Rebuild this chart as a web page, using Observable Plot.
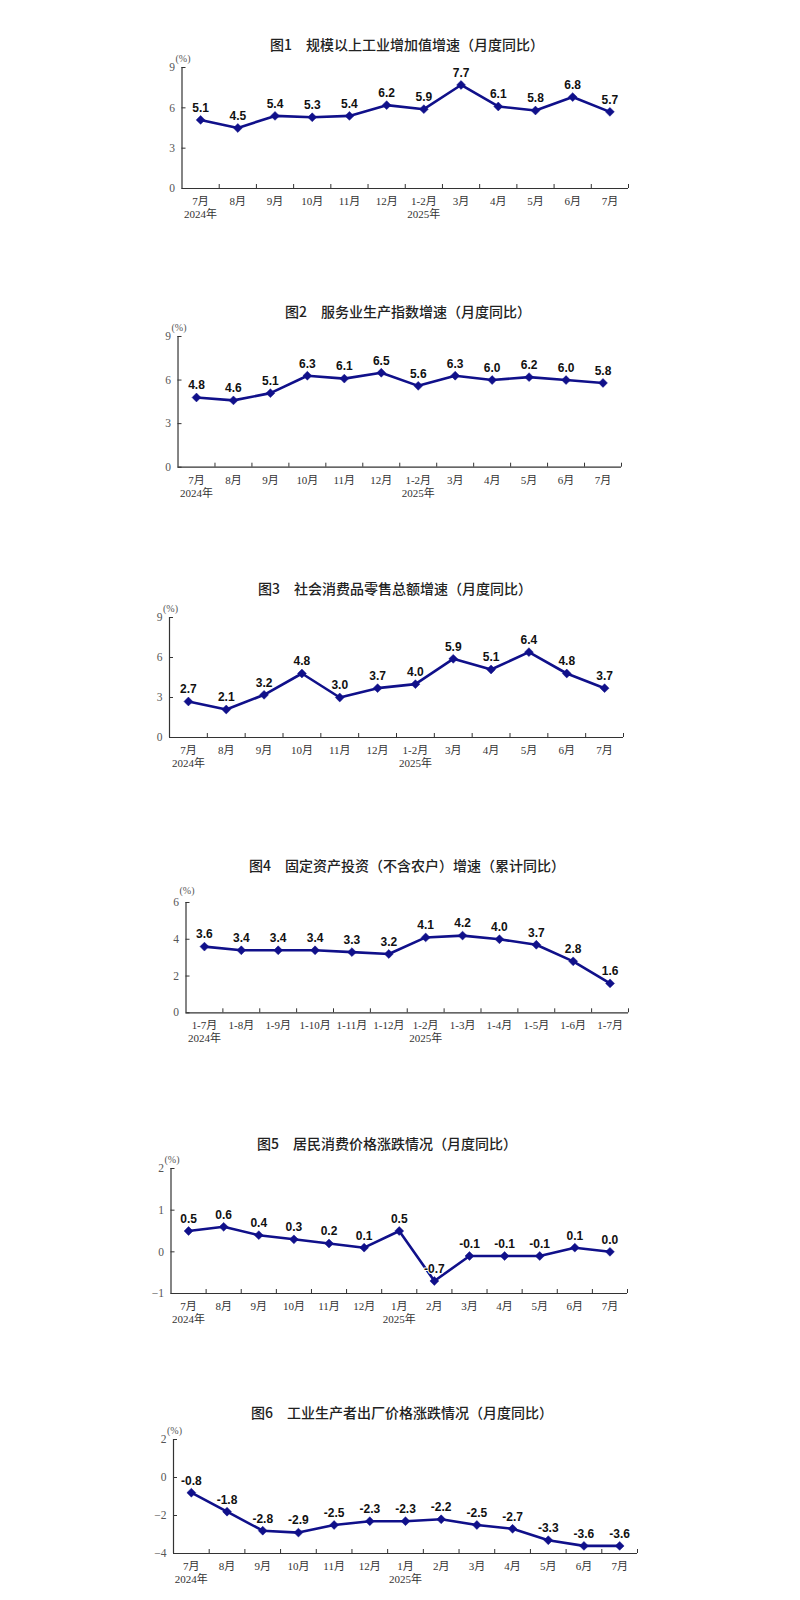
<!DOCTYPE html>
<html><head><meta charset="utf-8">
<script src="https://cdn.jsdelivr.net/npm/d3@7"></script>
<script src="https://cdn.jsdelivr.net/npm/@observablehq/plot@0.6"></script>
<style>
html,body{margin:0;padding:0;background:#fff}
body{width:800px;height:1600px;position:relative;overflow:hidden}
.title{position:absolute;transform:translate(-50%,-50%);white-space:nowrap;font-family:"Noto Sans CJK SC","Noto Sans",sans-serif;font-size:14px;font-weight:500;color:#222;line-height:1}
.chart{position:absolute;left:0}
</style></head><body>
<script>
// ---- data ----
const monthsA = ["7月","8月","9月","10月","11月","12月","1-2月","3月","4月","5月","6月","7月"];
const monthsB = ["7月","8月","9月","10月","11月","12月","1月","2月","3月","4月","5月","6月","7月"];
const cumMonths = ["1-7月","1-8月","1-9月","1-10月","1-11月","1-12月","1-2月","1-3月","1-4月","1-5月","1-6月","1-7月"];
const yearLabels = ["2024年","2025年"];
const industry   = [5.1,4.5,5.4,5.3,5.4,6.2,5.9,7.7,6.1,5.8,6.8,5.7];
const services   = [4.8,4.6,5.1,6.3,6.1,6.5,5.6,6.3,6.0,6.2,6.0,5.8];
const retail     = [2.7,2.1,3.2,4.8,3.0,3.7,4.0,5.9,5.1,6.4,4.8,3.7];
const investment = [3.6,3.4,3.4,3.4,3.3,3.2,4.1,4.2,4.0,3.7,2.8,1.6];
const cpi        = [0.5,0.6,0.4,0.3,0.2,0.1,0.5,-0.7,-0.1,-0.1,-0.1,0.1,0.0];
const ppi        = [-0.8,-1.8,-2.8,-2.9,-2.5,-2.3,-2.3,-2.2,-2.5,-2.7,-3.3,-3.6,-3.6];
const ticksA = [0,3,6,9];
const ticksInv = [0,2,4,6];
const ticksCpi = [-1,0,1,2];
const ticksPpi = [-4,-2,0,2];
const titles = [
  "图1　规模以上工业增加值增速（月度同比）",
  "图2　服务业生产指数增速（月度同比）",
  "图3　社会消费品零售总额增速（月度同比）",
  "图4　固定资产投资（不含农户）增速（累计同比）",
  "图5　居民消费价格涨跌情况（月度同比）",
  "图6　工业生产者出厂价格涨跌情况（月度同比）"
];
const unitLabel = "(%)";

// ---- layout / style ----
const lineColor = "#10108a";
const axisColor = "#333";
const serif = "'Liberation Serif','DejaVu Serif','Noto Sans CJK SC',serif";
const sans = "'Liberation Sans',Arial,sans-serif";

const charts = [
  {title: titles[0], cats: monthsA, values: industry, ticks: ticksA, tx: 407, ty: 44, left: 181.5, right: 628, top: 67.3, bottom: 188.3, pctDy: -13},
  {title: titles[1], cats: monthsA, values: services, ticks: ticksA, tx: 408, ty: 310.7, left: 177.5, right: 621, top: 336, bottom: 466.7, pctDy: -13},
  {title: titles[2], cats: monthsA, values: retail, ticks: ticksA, tx: 395, ty: 588.3, left: 169, right: 623, top: 616.7, bottom: 736.7, pctDy: -13},
  {title: titles[3], cats: cumMonths, values: investment, ticks: ticksInv, tx: 407, ty: 865, left: 185.5, right: 628, top: 901.7, bottom: 1012, pctDy: -16},
  {title: titles[4], cats: monthsB, values: cpi, ticks: ticksCpi, tx: 387, ty: 1142.7, left: 170.5, right: 627, top: 1168, bottom: 1293, pctDy: -13},
  {title: titles[5], cats: monthsB, values: ppi, ticks: ticksPpi, tx: 402, ty: 1411.7, left: 173, right: 637, top: 1439.3, bottom: 1553.3, pctDy: -13}
];

function draw(c) {
  const mt = 30, mb = 42;
  const n = c.cats.length;
  const yearIndex = 6;
  const rows = c.values.map((v, k) => ({i: k + 0.5, v}));
  const labelOf = (x) => {
    const k = Math.floor(x);
    return c.cats[k] + (k === 0 ? "\n" + yearLabels[0] : k === yearIndex ? "\n" + yearLabels[1] : "");
  };
  const t = document.createElement("div");
  t.className = "title";
  t.style.left = c.tx + "px";
  t.style.top = c.ty + "px";
  t.textContent = c.title;
  document.body.appendChild(t);

  const svg = Plot.plot({
    width: 800,
    height: mt + (c.bottom - c.top) + mb,
    marginLeft: c.left,
    marginRight: 800 - c.right,
    marginTop: mt,
    marginBottom: mb,
    x: {domain: [0, n]},
    y: {domain: [c.ticks[0], c.ticks[c.ticks.length - 1]]},
    style: {background: "transparent", overflow: "visible"},
    marks: [
      Plot.ruleX([0], {stroke: axisColor, strokeWidth: 1.2}),
      Plot.ruleY([c.ticks[0]], {stroke: axisColor, strokeWidth: 1.2}),
      Plot.axisY(c.ticks, {tickSize: -4, tickPadding: 11, fontSize: 11.5, fontFamily: serif, fill: "#555", stroke: axisColor, label: null}),
      Plot.axisX(d3.range(1, n + 1), {tickSize: -4, tickFormat: () => "", stroke: axisColor, label: null}),
      Plot.axisX(rows.map(d => d.i), {tickSize: 0, tickPadding: 7, tickFormat: labelOf, fontSize: 11, fontFamily: serif, fill: "#333", lineHeight: 1.2, label: null}),
      Plot.line(rows, {x: "i", y: "v", stroke: lineColor, strokeWidth: 2.6}),
      Plot.dot(rows, {x: "i", y: "v", symbol: "diamond2", r: 4, fill: lineColor, stroke: lineColor, strokeWidth: 0.5}),
      Plot.text(rows, {x: "i", y: "v", text: d => d.v.toFixed(1), dy: -12, fontSize: 12, fontWeight: "bold", fontFamily: sans, fill: "#111", stroke: "white", strokeWidth: 2}),
      Plot.text([unitLabel], {frameAnchor: "top-left", dx: 1, dy: c.pctDy, textAnchor: "middle", fontSize: 10, fontFamily: serif, fill: "#555"})
    ]
  });
  svg.classList.add("chart");
  svg.style.top = (c.top - mt) + "px";
  document.body.appendChild(svg);
}
charts.forEach(draw);
</script>
</body></html>
